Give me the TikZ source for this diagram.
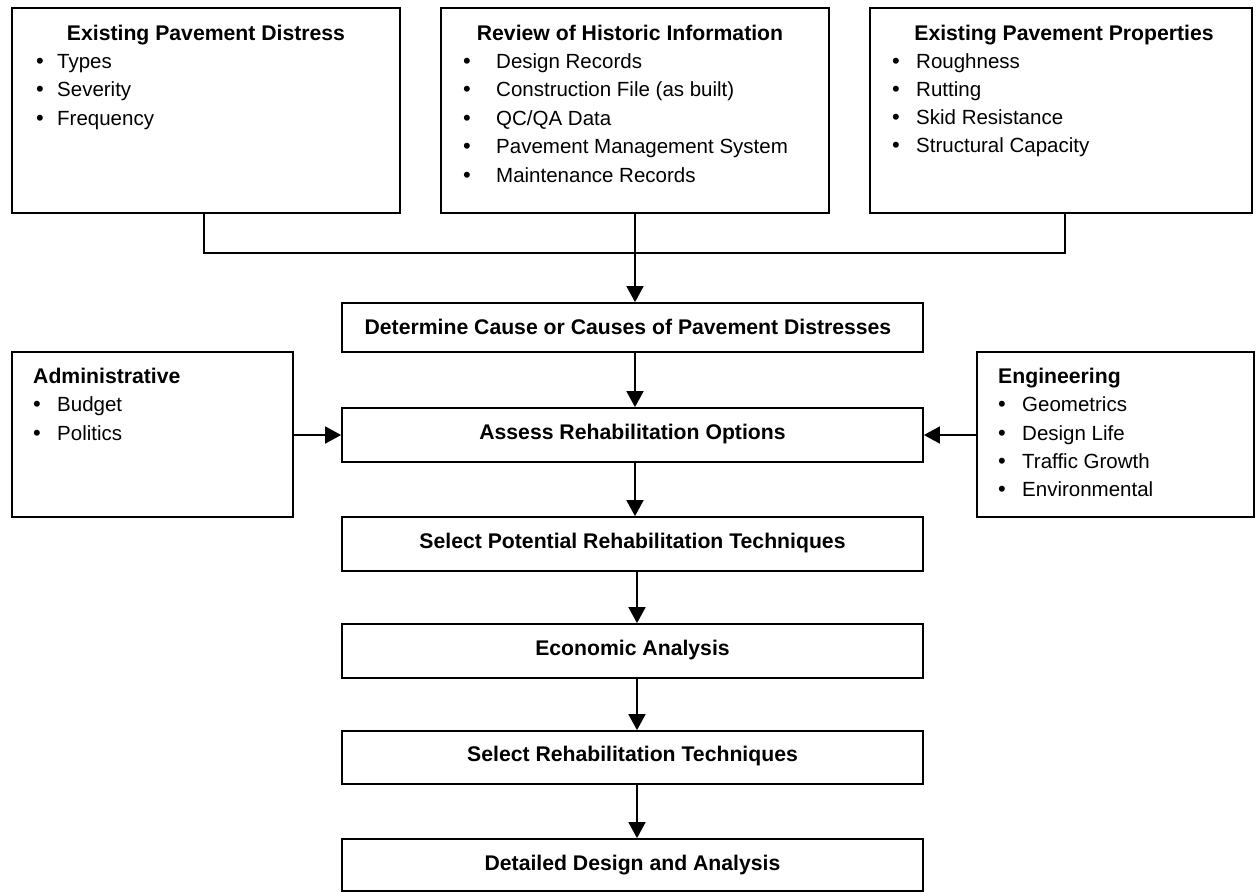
\documentclass[tikz,border=0pt]{standalone}
\usepackage{fontspec}
\setmainfont{Liberation Sans}
\usetikzlibrary{arrows.meta}
\begin{document}
\begin{tikzpicture}[x=1pt,y=-1pt,
  box/.style={draw, line width=1.8pt, inner sep=0pt},
  ttl/.style={font=\bfseries\fontsize{21.2}{21.2}\selectfont, inner sep=0pt, anchor=base},
  mtxt/.style={font=\bfseries\fontsize{21.2}{21.2}\selectfont, inner sep=0pt, anchor=base},
  itm/.style={font=\fontsize{20.5}{20.5}\selectfont, inner sep=0pt, anchor=base west},
  bul/.style={font=\fontsize{22}{22}\selectfont, inner sep=0pt, anchor=base},
  arr/.style={line width=1.8pt, -{Triangle[width=17pt,length=16pt]}},
  ln/.style={line width=1.8pt}]
\fill[white] (0,0) rectangle (1256,892);
\useasboundingbox (0,0) rectangle (1256,892);

% top boxes
\node[box, minimum width=388, minimum height=205] (b1) at (206,110.5) {};
\node[box, minimum width=388, minimum height=205] (b2) at (635,110.5) {};
\node[box, minimum width=382, minimum height=205] (b3) at (1061,110.5) {};

\node[ttl] (t1) at (206,40) {Existing Pavement Distress};
\node[ttl] (t2) at (630,40) {Review of Historic Information};
\node[ttl] (t3) at (1064,40) {Existing Pavement Properties};

\foreach \t [count=\i] in {Types,Severity,Frequency}{
  \node[bul] (p1b\i) at (40,40+28.4*\i) {•};
  \node[itm] (p1i\i) at (57,40+28.4*\i) {\t};
}
\foreach \t [count=\i] in {Design Records,Construction File (as built),QC/QA Data,Pavement Management System,Maintenance Records}{
  \node[bul] (p2b\i) at (467,40+28.4*\i) {•};
  \node[itm] (p2i\i) at (496,40+28.4*\i) {\t};
}
\foreach \t [count=\i] in {Roughness,Rutting,Skid Resistance,Structural Capacity}{
  \node[bul] (p3b\i) at (896,40+28.2*\i) {•};
  \node[itm] (p3i\i) at (916,40+28.2*\i) {\t};
}

% side boxes
\node[box, minimum width=281, minimum height=165] (adm) at (152.5,434.5) {};
\node[box, minimum width=277, minimum height=165] (eng) at (1115.5,434.5) {};
\node[ttl, anchor=base west] (tadm) at (33,383.3) {Administrative};
\node[ttl, anchor=base west] (teng) at (998,383.3) {Engineering};
\foreach \t [count=\i] in {Budget,Politics}{
  \node[bul] (pab\i) at (37,383.3+28.4*\i) {•};
  \node[itm] (pai\i) at (57,383.3+28.4*\i) {\t};
}
\foreach \t [count=\i] in {Geometrics,Design Life,Traffic Growth,Environmental}{
  \node[bul] (peb\i) at (1002,383.3+28.4*\i) {•};
  \node[itm] (pei\i) at (1022,383.3+28.4*\i) {\t};
}

% main column
\node[box, minimum width=581, minimum height=49] (det) at (632.5,327.5) {};
\node[box, minimum width=581, minimum height=54] (ass) at (632.5,435) {};
\node[box, minimum width=581, minimum height=54] (spt) at (632.5,544) {};
\node[box, minimum width=581, minimum height=54] (eco) at (632.5,651) {};
\node[box, minimum width=581, minimum height=53] (srt) at (632.5,757.5) {};
\node[box, minimum width=581, minimum height=52] (dda) at (632.5,865) {};

\node[mtxt] (tdet) at (628,334) {Determine Cause or Causes of Pavement Distresses};
\node[mtxt] (tass) at (632.5,439) {Assess Rehabilitation Options};
\node[mtxt] (tspt) at (632.5,548.3) {Select Potential Rehabilitation Techniques};
\node[mtxt] (teco) at (632.5,655) {Economic Analysis};
\node[mtxt] (tsrt) at (632.5,761.7) {Select Rehabilitation Techniques};
\node[mtxt] (tdda) at (632.5,870) {Detailed Design and Analysis};

% connectors
\coordinate (j1) at (204,253);
\coordinate (j3) at (1065,253);
\draw[ln] (b1.south -| j1) -- (j1) -- (j3) -- (b3.south -| j3);
\draw[arr] (b2.south) -- (b2.south |- det.north);
\draw[arr] (det.south -| b2.south) -- (ass.north -| b2.south);
\draw[arr] (ass.south -| b2.south) -- (spt.north -| b2.south);
\coordinate (cx) at (637,0);
\draw[arr] (spt.south -| cx) -- (eco.north -| cx);
\draw[arr] (eco.south -| cx) -- (srt.north -| cx);
\draw[arr] (srt.south -| cx) -- (dda.north -| cx);
\draw[arr] (adm.east |- ass.west) -- (ass.west);
\draw[arr] (eng.west |- ass.east) -- (ass.east);
\end{tikzpicture}
\end{document}
